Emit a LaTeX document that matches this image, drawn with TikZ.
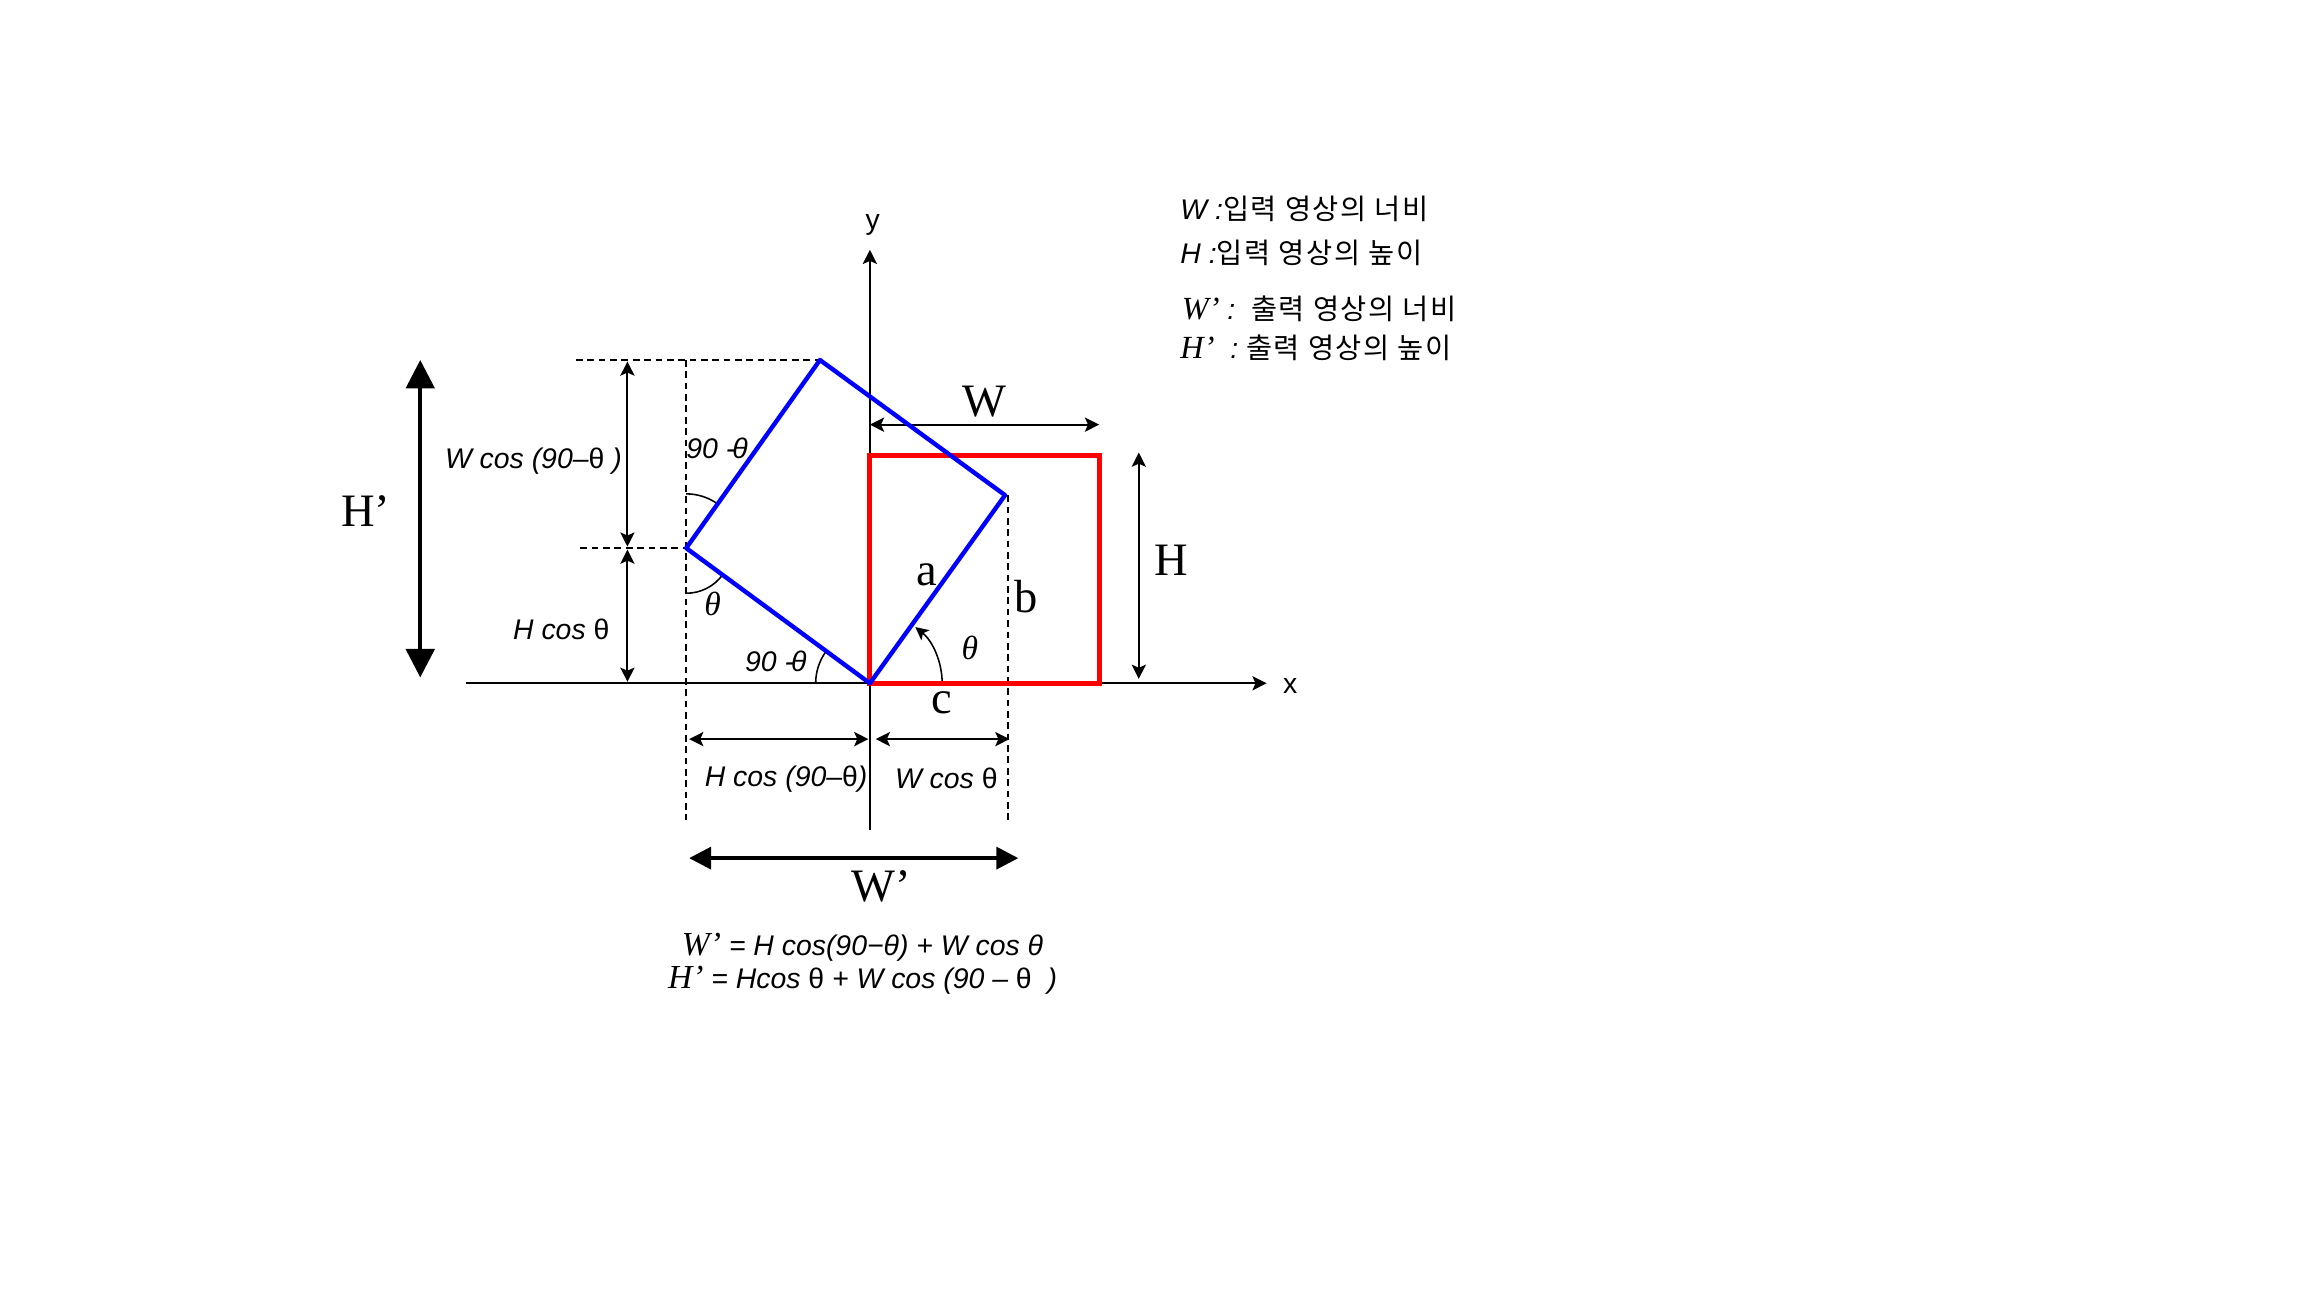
\documentclass[tikz,border=0pt]{standalone}
\usepackage{fontspec}
\setmainfont{Liberation Serif}
\newfontfamily\arf{Liberation Sans}
\newfontfamily\krf[LetterSpace=6]{Noto Sans CJK KR}
\usetikzlibrary{arrows.meta}
\begin{document}
\begin{tikzpicture}[x=0.02cm,y=-0.02cm,
  thinln/.style={line width=0.75pt},
  dashln/.style={line width=0.75pt,dash pattern=on 2.6pt off 1.8pt},
  arcln/.style={line width=0.6pt},
  dimarrow/.style={line width=0.75pt,{Stealth[length=5.5pt,width=5.5pt,inset=1.2pt]}-{Stealth[length=5.5pt,width=5.5pt,inset=1.2pt]}},
  axisarrow/.style={line width=0.75pt,-{Stealth[length=5.5pt,width=5.5pt,inset=1.2pt]}},
  bigarrowv/.style={line width=1.5pt,{Triangle[length=11pt,width=11pt]}-{Triangle[length=11pt,width=11pt]}},
  bigarrowh/.style={line width=1.4pt,{Triangle[length=8.5pt,width=8.5pt]}-{Triangle[length=8.5pt,width=8.5pt]}},
  redbox/.style={draw=red,line width=1.9pt},
  bluebox/.style={draw=blue,line width=1.7pt,line join=round},
  bigtxt/.style={inner sep=0pt,font=\fontsize{18}{20}\selectfont},
  sanstxt/.style={inner sep=0pt,font=\arf\itshape\fontsize{11}{13}\selectfont},
  axistxt/.style={inner sep=0pt,font=\arf\fontsize{11}{13}\selectfont},
  thetatxt/.style={inner sep=0pt,font=\itshape\fontsize{13}{15}\selectfont},
  legtxt/.style={inner sep=0pt,anchor=west,font=\fontsize{11}{13}\selectfont}
]
\useasboundingbox (0,0) rectangle (1568,882);

% key points
\coordinate (O) at (592,465);
\coordinate (B1) at (684,337);
\coordinate (B2) at (558,245);
\coordinate (B3) at (467,373);
\coordinate (R1) at (592,310);
\coordinate (R2) at (748,465);

% axes
\coordinate (xL) at (317,465);
\coordinate (xR) at (862,465);
\coordinate (yB) at (592,565);
\coordinate (yT) at (592,170);
\draw[axisarrow] (xL) -- (xR);
\draw[axisarrow] (yB) -- (yT);
\node[axistxt] (lx) at (878,467) {x};
\node[axistxt] (ly) at (594,153) {y};

% dashed guides
\coordinate (dT) at (392,245);
\coordinate (dM) at (395,373);
\coordinate (dLb) at (467,558);
\coordinate (dLt) at (467,245);
\coordinate (dRt) at (686,337);
\coordinate (dRb) at (686,558);
\draw[dashln] (dT) -- (B2);
\draw[dashln] (dM) -- (B3);
\draw[dashln] (dLt) -- (dLb);
\draw[dashln] (dRt) -- (dRb);

% vertical dimension arrows (left)
\coordinate (v1) at (427,246);
\coordinate (v2) at (427,372);
\coordinate (v3) at (427,374);
\coordinate (v4) at (427,464);
\draw[dimarrow] (v1) -- (v2);
\draw[dimarrow] (v3) -- (v4);
\node[sanstxt] (lWc) at (363,314) {W cos (90–{\upshape θ} )};
\node[sanstxt] (lHc) at (382,428) {H cos {\upshape θ}};

% horizontal dimension arrows (bottom)
\coordinate (h1) at (469,503);
\coordinate (h2) at (591,503);
\coordinate (h3) at (596,503);
\coordinate (h4) at (687,503);
\draw[dimarrow] (h1) -- (h2);
\draw[dimarrow] (h3) -- (h4);
\node[sanstxt] (lHc2) at (535,530) {H cos (90–{\upshape θ})};
\node[sanstxt] (lWc2) at (644,530) {W cos {\upshape θ}};

% W and H arrows
\coordinate (w1) at (592,289);
\coordinate (w2) at (748,289);
\draw[dimarrow] (w1) -- (w2);
\node[bigtxt] (lW) at (670,273) {W};
\coordinate (hh1) at (775,308);
\coordinate (hh2) at (775,462);
\draw[dimarrow] (hh1) -- (hh2);
\node[bigtxt] (lH) at (797,381) {H};

% big arrows
\coordinate (Hp1) at (286,245);
\coordinate (Hp2) at (286,461);
\draw[bigarrowv] (Hp1) -- (Hp2);
\node[bigtxt] (lHp) at (249,348) {H’};
\coordinate (Wp1) at (469,584);
\coordinate (Wp2) at (693,584);
\draw[bigarrowh] (Wp1) -- (Wp2);
\node[bigtxt] (lWp) at (600,603) {W’};

% angle arcs
\draw[arcln] ([shift={(90:21pt)}]B3) arc[start angle=90,end angle=55,radius=21pt];
\draw[arcln] ([shift={(-90:17.5pt)}]B3) arc[start angle=-90,end angle=-36,radius=17.5pt];
\draw[arcln] ([shift={(180:21pt)}]O) arc[start angle=180,end angle=144,radius=21pt];
\draw[arcln,-{Stealth[length=5pt,width=5pt,inset=1.2pt]}] ([shift={(0:28pt)}]O) arc[start angle=0,end angle=51,radius=28pt];

\node[sanstxt] (a1) at (488,305) {90 -\kern-0.1em θ};
\node[thetatxt] (a2) at (485,411) {θ};
\node[sanstxt] (a3) at (528,450) {90 -\kern-0.1em θ};
\node[thetatxt] (a4) at (660,441) {θ};

% rectangles
\draw[redbox] (R1) rectangle (R2);
\draw[bluebox] (O) -- (B1) -- (B2) -- (B3) -- cycle;

\node[bigtxt] (la) at (631,391) {a};
\node[bigtxt] (lb) at (698,406) {b};
\node[bigtxt] (lc) at (641,478) {c};

% formulas
\node[sanstxt] (f1) at (587,645) {{\rmfamily\fontsize{13}{15}\selectfont W’} = H cos(90−θ) + W cos θ};
\node[sanstxt] (f2) at (587,667) {{\rmfamily\fontsize{13}{15}\selectfont H’} = Hcos {\upshape θ} + W cos (90 – {\upshape θ}\ \ )};

% legend
\node[legtxt] (g1) at (803,142) {{\arf\itshape\fontsize{11}{13}\selectfont W :}{\krf 입력 영상의 너비}};
\node[legtxt] (g2) at (803,172) {{\arf\itshape\fontsize{11}{13}\selectfont H :}{\krf 입력 영상의 높이}};
\node[legtxt] (g3) at (804,210) {{\itshape\fontsize{12.5}{14}\selectfont W’}{\arf\itshape\fontsize{11}{13}\selectfont\ :\ \ }{\krf 출력 영상의 너비}};
\node[legtxt] (g4) at (803,237) {{\itshape\fontsize{12.5}{14}\selectfont H’}{\arf\itshape\fontsize{11}{13}\selectfont\ \ :\ }{\krf 출력 영상의 높이}};
\end{tikzpicture}
\end{document}
